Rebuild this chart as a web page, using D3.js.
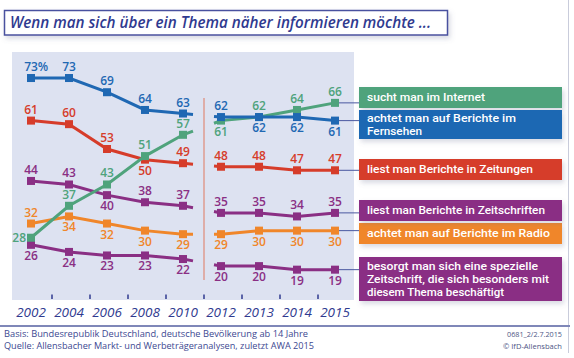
<!DOCTYPE html>
<html><head><meta charset="utf-8">
<script src="https://cdn.jsdelivr.net/npm/d3@7"></script>
<style>body{margin:0;background:#fff}svg{display:block}</style>
</head><body>
<svg id="c" width="574" height="358"></svg>
<script>
// ---- data ----
const years = ["2002","2004","2006","2008","2010","2012","2013","2014","2015"];
const internet      = [28,37,43,51,57,61,62,64,66];
const fernsehen     = [73,73,69,64,63,62,62,62,61];
const zeitungen     = [61,60,53,50,49,48,48,47,47];
const zeitschriften = [44,43,40,38,37,35,35,34,35];
const radio         = [32,34,32,30,29,29,30,30,30];
const spezial       = [26,24,23,23,22,20,20,19,19];

const legendInternet      = ["sucht man im Internet"];
const legendFernsehen     = ["achtet man auf Berichte im", "Fernsehen"];
const legendZeitungen     = ["liest man Berichte in Zeitungen"];
const legendZeitschriften = ["liest man Berichte in Zeitschriften"];
const legendRadio         = ["achtet man auf Berichte im Radio"];
const legendSpezial       = ["besorgt man sich eine spezielle", "Zeitschrift, die sich besonders mit", "diesem Thema beschäftigt"];

const titleText = "Wenn man sich über ein Thema näher informieren möchte ...";
const footLeft = ["Basis:  Bundesrepublik Deutschland, deutsche Bevölkerung ab 14 Jahre",
                  "Quelle: Allensbacher Markt- und Werbeträgeranalysen, zuletzt AWA 2015"];
const footRight = ["0681_2/2.7.2015", "© IfD-Allensbach"];

// label placement (a = above, b = below, l = left)
const posInternet      = ["l","a","a","a","a","b","a","a","a"];
const posFernsehen     = ["a","a","a","a","a","a","b","b","b"];
const posZeitungen     = ["a","a","a","b","a","a","a","a","a"];
const posZeitschriften = ["a","a","b","a","a","a","a","a","a"];
const posRadio         = ["a","b","b","b","b","b","b","b","b"];
const posSpezial       = ["b","b","b","b","b","b","b","b","b"];

// ---- layout / style ----
const FONT = "'Open Sans', 'DejaVu Sans', sans-serif";
const LFONT = "Roboto, 'Liberation Sans', sans-serif";
const NAVY = "#2f3a8f";
const series = [
  {vals: spezial,       pos: posSpezial,       color: "#8a2f84", legend: legendSpezial,       boxTop: 257, boxH: 44, tw: [171,182,137]},
  {vals: radio,         pos: posRadio,         color: "#f0862a", legend: legendRadio,         boxTop: 223, boxH: 21, tw: [183]},
  {vals: zeitschriften, pos: posZeitschriften, color: "#8a2f84", legend: legendZeitschriften, boxTop: 200, boxH: 21, tw: [178]},
  {vals: zeitungen,     pos: posZeitungen,     color: "#d63c2a", legend: legendZeitungen,     boxTop: 159, boxH: 21, tw: [166]},
  {vals: internet,      pos: posInternet,      color: "#4fa37c", legend: legendInternet,      boxTop: 87,  boxH: 21, tw: [118]},
  {vals: fernsehen,     pos: posFernsehen,     color: "#1f68b3", legend: legendFernsehen,     boxTop: 110, boxH: 29, tw: [149,55]}
];
const breakAfter = "2010"; // lines are interrupted between 2010 and 2012

const svg = d3.select("#c");
const defs = svg.append("defs");
const f = defs.append("filter").attr("id","sh").attr("x","-10%").attr("y","-20%").attr("width","130%").attr("height","160%");
f.append("feDropShadow").attr("dx",2).attr("dy",3).attr("stdDeviation",2.5).attr("flood-color","#6a6f90").attr("flood-opacity",0.25);

const x = d3.scalePoint().domain(years).range([31, 335]);
const y = d3.scaleLinear().domain([0, 100]).range([337.1, -17.8]);
const step = x.step();

// frame lines
svg.append("line").attr("x1",568.5).attr("x2",568.5).attr("y1",0).attr("y2",353).attr("stroke","#c9ccdb").attr("stroke-width",1);

// title
svg.append("rect").attr("x",4.5).attr("y",10.5).attr("width",443).attr("height",24.5)
  .attr("fill","#fff").attr("stroke","#4a519f").attr("stroke-width",1.5).attr("filter","url(#sh)");
svg.append("text").attr("x",10).attr("y",28).attr("font-family",FONT).attr("font-style","italic").attr("font-weight",600)
  .attr("font-size",15.5).attr("fill",NAVY).attr("textLength",421).attr("lengthAdjust","spacingAndGlyphs").text(titleText);

// panel
svg.append("rect").attr("x",12).attr("y",52).attr("width",342).attr("height",248).attr("fill","#dde2f1");

// ticks between years
const mids = d3.pairs(years).map(([a,b]) => (x(a)+x(b))/2 + 2);
svg.append("g").selectAll("line").data(mids).join("line")
  .attr("x1",d=>d).attr("x2",d=>d).attr("y1",294.5).attr("y2",299).attr("stroke",NAVY).attr("stroke-width",1.5);
// divider between 2010 and 2012
const bi = years.indexOf(breakAfter);
const divX = mids[bi];
svg.append("line").attr("x1",divX).attr("x2",divX).attr("y1",98).attr("y2",280).attr("stroke","#e08a78").attr("stroke-width",1.2);

// year labels
svg.append("g").selectAll("text").data(years).join("text")
  .attr("x",d=>x(d)).attr("y",317).attr("text-anchor","middle").attr("font-family",FONT)
  .attr("font-style","italic").attr("font-size",13.5).attr("fill",NAVY).text(d=>d);

// connectors + legend boxes
const lastYear = years[years.length-1];
const boxX = 359, boxW = 203;
series.forEach(s => {
  const ly = y(s.vals[s.vals.length-1]);
  svg.append("line").attr("x1",x(lastYear)).attr("x2",boxX).attr("y1",ly).attr("y2",ly)
    .attr("stroke","#4a58a0").attr("stroke-width",1);
});
series.forEach(s => {
  const g = svg.append("g");
  g.append("rect").attr("x",boxX).attr("y",s.boxTop).attr("width",boxW).attr("height",s.boxH)
    .attr("fill",s.color).attr("filter","url(#sh)");
  const lh = 13;
  const first = s.boxTop + (s.boxH - s.legend.length*lh)/2 + 10;
  s.legend.forEach((t,i) => {
    g.append("text").attr("x",boxX+8).attr("y",first + i*lh).attr("font-family",LFONT).attr("font-weight",500)
      .attr("font-size",11).attr("fill","#fff").attr("textLength",s.tw[i]).attr("lengthAdjust","spacingAndGlyphs").text(t);
  });
});

// lines
const line = d3.line().x(d=>d[0]).y(d=>d[1]);
series.forEach(s => {
  const pts = years.map((yr,i)=>[x(yr), y(s.vals[i])]);
  const left = pts.slice(0, bi+1), right = pts.slice(bi+1);
  const a = pts[bi], b = pts[bi+1];
  const t1 = 10/step, t2 = 7/step;
  left.push([a[0]+(b[0]-a[0])*t1, a[1]+(b[1]-a[1])*t1]);
  right.unshift([b[0]-(b[0]-a[0])*t2, b[1]-(b[1]-a[1])*t2]);
  [left, right].forEach(seg => svg.append("path").attr("d",line(seg)).attr("fill","none")
    .attr("stroke",s.color).attr("stroke-width",3));
  svg.append("g").selectAll("rect").data(pts).join("rect")
    .attr("x",d=>d[0]-4).attr("y",d=>d[1]-4).attr("width",8).attr("height",8).attr("fill",s.color);
});

// value labels
series.forEach(s => {
  s.vals.forEach((v,i) => {
    const px = x(years[i]), py = y(v), p = s.pos[i];
    const t = svg.append("text").attr("font-family",FONT).attr("font-weight",600).attr("font-size",12)
      .attr("fill",s.color).text(v);
    if (p === "l") { t.attr("x",px-5).attr("y",py+4).attr("text-anchor","end"); }
    else { t.attr("x",px).attr("y", p==="a" ? py-7 : py+15).attr("text-anchor","middle"); }
    if (s.vals === fernsehen && i === 0) {
      const w = t.node().getComputedTextLength();
      t.attr("text-anchor","start").attr("x",px-w/2);
      t.append("tspan").text("%");
    }
  });
});

// footer
svg.append("line").attr("x1",0).attr("x2",570).attr("y1",326).attr("y2",326).attr("stroke","#7f87b8").attr("stroke-width",2);
const fl = [304, 310];
footLeft.forEach((t,i) => svg.append("text").attr("x",4).attr("y",337+i*12).attr("font-family",FONT)
  .attr("font-size",9).attr("fill","#3c4891").attr("textLength",fl[i]).attr("lengthAdjust","spacingAndGlyphs").text(t));
const fr = [55, 59];
footRight.forEach((t,i) => svg.append("text").attr("x",562-fr[i]).attr("y",337+i*12).attr("font-family",FONT)
  .attr("font-size",7.5).attr("fill","#4d5585").attr("textLength",fr[i]).attr("lengthAdjust","spacingAndGlyphs").text(t));
</script>
</body></html>
